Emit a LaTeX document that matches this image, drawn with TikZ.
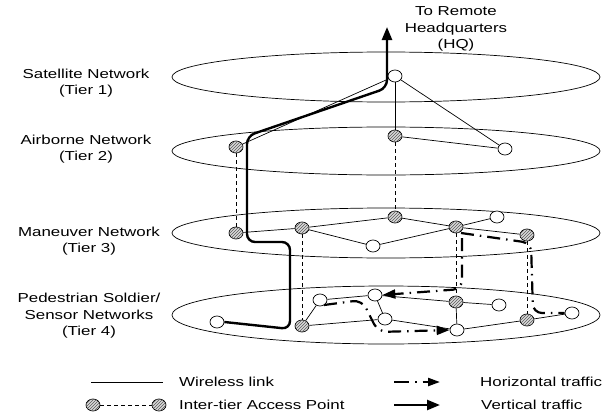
\documentclass[tikz,border=0pt]{standalone}
\usepackage{fontspec}
\setmainfont{Liberation Sans}[FakeStretch=1.3]
\usetikzlibrary{shapes.geometric,patterns,arrows.meta}
\begin{document}
\begin{tikzpicture}[x=1pt,y=-1pt,
  tier/.style={line width=0.7pt},
  wl/.style={line width=0.7pt},
  itap/.style={line width=0.7pt, dash pattern=on 4pt off 3pt},
  anode/.style={ellipse, draw, line width=0.7pt, minimum width=14pt, minimum height=12pt, inner sep=0pt, fill=white},
  hnode/.style={anode, fill=gray!30, postaction={pattern=north east lines, pattern color=gray!70!black}},
  htraffic/.style={line width=2.2pt, dash pattern=on 13pt off 6pt on 1.5pt off 6pt, -{Triangle[length=13pt,width=9pt]}},
  hplain/.style={line width=2.2pt, dash pattern=on 13pt off 6pt on 1.5pt off 6pt},
  vtraffic/.style={line width=2.4pt, -{Triangle[length=13pt,width=10pt]}},
  lbl/.style={font=\fontsize{13}{16.5}\selectfont, align=center, inner sep=0pt}
]
\useasboundingbox (0,0) rectangle (605,415);

% tiers
\draw[tier] (386,77) ellipse [x radius=214, y radius=25];
\draw[tier] (386,151) ellipse [x radius=214, y radius=24];
\draw[tier] (386,233) ellipse [x radius=214, y radius=25];
\draw[tier] (386,315) ellipse [x radius=214, y radius=29];

% labels
\node[lbl] (l1) at (86,83) {Satellite Network\\(Tier 1)};
\node[lbl] (l2) at (86,149) {Airborne Network\\(Tier 2)};
\node[lbl] (l3) at (89,241) {Maneuver Network\\(Tier 3)};
\node[lbl] (l4) at (89,316) {Pedestrian Soldier/\\Sensor Networks\\(Tier 4)};
\node[lbl] (hq) at (456,29) {To Remote\\Headquarters\\(HQ)};

% nodes
\node[anode] (s1) at (395,76) {};
\node[hnode] (a1) at (236,147) {};
\node[hnode] (a2) at (395,136) {};
\node[anode] (a3) at (505,149) {};
\node[hnode] (m1) at (236,233) {};
\node[hnode] (m2) at (302,228) {};
\node[anode] (m3) at (373,246) {};
\node[hnode] (m4) at (395,217) {};
\node[hnode] (m5) at (456,227) {};
\node[anode] (m6) at (497,217) {};
\node[hnode] (m7) at (527,235) {};
\node[anode] (p1) at (217,322) {};
\node[hnode] (p2) at (302,326) {};
\node[anode] (p3) at (320,300) {};
\node[anode] (p4) at (375,295) {};
\node[anode] (p5) at (385,319) {};
\node[hnode] (p6) at (456,302) {};
\node[anode] (p7) at (499,305) {};
\node[anode] (p8) at (457,330) {};
\node[hnode] (p9) at (527,320) {};
\node[anode] (p10) at (572,313) {};

% wireless links
\draw[wl] (s1) -- (a1);
\draw[wl] (s1) -- (a2);
\draw[wl] (s1) -- (a3);
\draw[wl] (a2) -- (a3);
\draw[wl] (m1) -- (m2);
\draw[wl] (m2) -- (m4);
\draw[wl] (m2) -- (m3);
\draw[wl] (m3) -- (m5);
\draw[wl] (m4) -- (m5);
\draw[wl] (m5) -- (m6);
\draw[wl] (m5) -- (m7);
\draw[wl] (p2) -- (p3);
\draw[wl] (p2) -- (p5);
\draw[wl] (p3) -- (p4);
\draw[wl] (p4) -- (p5);
\draw[wl] (p4) -- (p6);
\draw[wl] (p5) -- (p8);
\draw[wl] (p6) -- (p7);
\draw[wl] (p6) -- (p8);
\draw[wl] (p8) -- (p9);
\draw[wl] (p9) -- (p10);

% inter-tier access links
\draw[itap] (a1) -- (m1);
\draw[itap] (a2) -- (m4);
\draw[itap] (m2) -- (p2);
\draw[itap] (m5) -- (p6);
\draw[itap] (m7) -- (p9);

% vertical traffic
\coordinate (hqtip) at (387,27);
\draw[vtraffic, rounded corners=8pt] (p1.east) -- (290,329) -- (290,242) -- (247,242) -- (247,136) -- (387,88) -- (hqtip);

% horizontal traffic
\draw[hplain, rounded corners=9pt] (461,233) -- (531,243) -- (533,313) -- (p10.west);
\draw[htraffic, rounded corners=9pt] (462,238) -- (462,289) -- (p4.east);
\draw[htraffic, rounded corners=9pt] (324,305) -- (362,300) -- (378,332) -- (p8.west);

% legend
\coordinate (w1) at (91,382);
\coordinate (w2) at (163,382);
\draw[wl] (w1) -- (w2);
\node[lbl, anchor=west] (tw) at (179,382) {Wireless link};
\node[hnode] (g1) at (93,405) {};
\node[hnode] (g2) at (159,405) {};
\draw[itap] (g1) -- (g2);
\node[lbl, anchor=west] (tg) at (179,405) {Inter-tier Access Point};
\coordinate (h1) at (394,382);
\coordinate (h2) at (440,382);
\draw[line width=2.2pt, dash pattern=on 15pt off 6pt on 1.5pt off 6pt, -{Triangle[length=12pt,width=8pt]}] (h1) -- (h2);
\node[lbl, anchor=west] (th) at (480,382) {Horizontal traffic};
\coordinate (v1) at (394,405);
\coordinate (v2) at (440,405);
\draw[vtraffic] (v1) -- (v2);
\node[lbl, anchor=west] (tv) at (481,405) {Vertical traffic};
\end{tikzpicture}
\end{document}
